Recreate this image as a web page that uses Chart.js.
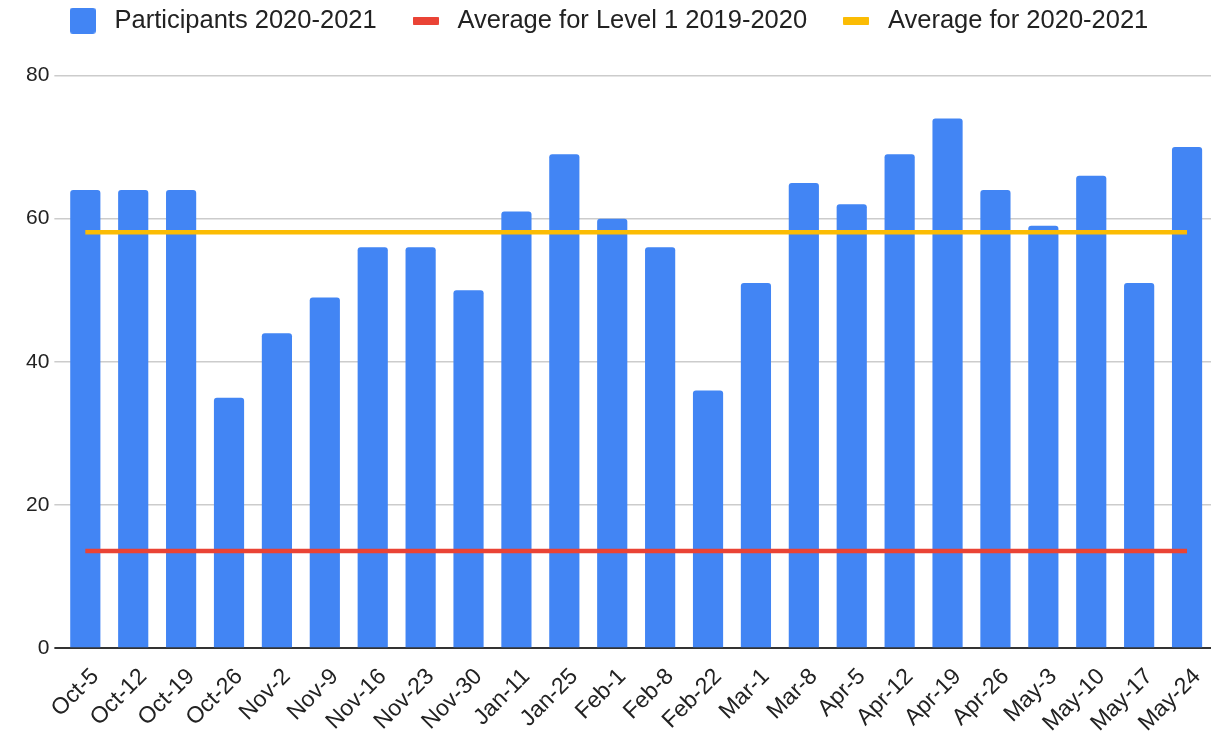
<!DOCTYPE html>
<html>
<head>
<meta charset="utf-8">
<script src="https://cdn.jsdelivr.net/npm/chart.js@4"></script>
<style>
  html, body { margin: 0; padding: 0; background: #fff; }
  #wrap { width: 1211px; height: 739px; }
</style>
</head>
<body>
<div id="wrap"><canvas id="chart" width="1211" height="739"></canvas></div>
<script>
// --- Data ---
const weeks = ['Oct-5', 'Oct-12', 'Oct-19', 'Oct-26', 'Nov-2', 'Nov-9', 'Nov-16', 'Nov-23', 'Nov-30',
    'Jan-11', 'Jan-25', 'Feb-1', 'Feb-8', 'Feb-22', 'Mar-1', 'Mar-8', 'Apr-5', 'Apr-12', 'Apr-19',
    'Apr-26', 'May-3', 'May-10', 'May-17', 'May-24'];
const participants = [64, 64, 64, 35, 44, 49, 56, 56, 50, 61, 69, 60, 56, 36, 51, 65, 62, 69, 74, 64, 59, 66, 51, 70];
const avgLevel1 = [13.6, 13.6, 13.6, 13.6, 13.6, 13.6, 13.6, 13.6, 13.6, 13.6, 13.6, 13.6,
    13.6, 13.6, 13.6, 13.6, 13.6, 13.6, 13.6, 13.6, 13.6, 13.6, 13.6, 13.6];
const avgCurrent = [58.1, 58.1, 58.1, 58.1, 58.1, 58.1, 58.1, 58.1, 58.1, 58.1, 58.1, 58.1,
    58.1, 58.1, 58.1, 58.1, 58.1, 58.1, 58.1, 58.1, 58.1, 58.1, 58.1, 58.1];
const yTicks = [0, 20, 40, 60, 80];

const BLUE = '#4285f4';
const RED = '#ea4335';
const YELLOW = '#fbbc04';
const TEXT = '#222222';

// legend swatches
function swatch(color, w, h, r) {
    const c = document.createElement('canvas');
    c.width = w; c.height = h;
    const g = c.getContext('2d');
    g.fillStyle = color;
    g.beginPath();
    g.roundRect(0, 0, w, h, r);
    g.fill();
    return c;
}

// extra room under the legend, and nudge it a bit to the left
const legendGap = {
    id: 'legendGap',
    beforeInit(chart) {
        const fit = chart.legend.fit;
        chart.legend.fit = function () {
            fit.call(this);
            this.height += 32;
        };
    },
    afterLayout(chart) {
        chart.legend.left -= 16;
        chart.legend.right -= 16;
    }
};

Chart.defaults.font.family = '"Liberation Sans", Arial, sans-serif';
Chart.defaults.color = TEXT;

const ctx = document.getElementById('chart').getContext('2d');
new Chart(ctx, {
    data: {
        labels: weeks,
        datasets: [
            {
                type: 'bar',
                label: 'Participants 2020-2021',
                data: participants,
                backgroundColor: BLUE,
                borderRadius: { topLeft: 3, topRight: 3 },
                borderSkipped: 'bottom',
                barPercentage: 0.63,
                categoryPercentage: 1,
                pointStyle: swatch(BLUE, 26, 26, 3),
                order: 3
            },
            {
                type: 'line',
                label: 'Average for Level 1 2019-2020',
                data: avgLevel1,
                borderColor: RED,
                borderWidth: 4.5,
                pointRadius: 0,
                pointStyle: swatch(RED, 26, 8, 1),
                order: 1
            },
            {
                type: 'line',
                label: 'Average for 2020-2021',
                data: avgCurrent,
                borderColor: YELLOW,
                borderWidth: 4.5,
                pointRadius: 0,
                pointStyle: swatch(YELLOW, 26, 8, 1),
                order: 2
            }
        ]
    },
    plugins: [legendGap],
    options: {
        responsive: false,
        animation: false,
        layout: { padding: { left: 21, right: -12, top: -22, bottom: -5 } },
        plugins: {
            legend: {
                position: 'top',
                labels: {
                    usePointStyle: true,
                    pointStyleWidth: 38,
                    color: TEXT,
                    font: { size: 25.5 },
                    padding: 30,
                    sort: (a, b) => a.datasetIndex - b.datasetIndex
                }
            },
            tooltip: { enabled: false }
        },
        scales: {
            x: {
                offset: true,
                afterFit: scale => { scale.paddingRight = -12; },
                grid: { display: false },
                border: { display: false },
                ticks: {
                    color: TEXT,
                    font: { size: 23 },
                    maxRotation: 45,
                    minRotation: 45,
                    autoSkip: false,
                    padding: 7,
                    labelOffset: 10
                }
            },
            y: {
                min: 0,
                max: 80,
                afterBuildTicks: axis => { axis.ticks = yTicks.map(v => ({ value: v })); },
                border: { display: false },
                grid: {
                    color: c => c.tick && c.tick.value === 0 ? '#333333' : '#cccccc',
                    lineWidth: c => c.tick && c.tick.value === 0 ? 2 : 1.5,
                    tickLength: 7
                },
                ticks: {
                    color: TEXT,
                    font: { size: 21 },
                    padding: 5
                }
            }
        }
    }
});
</script>
</body>
</html>
